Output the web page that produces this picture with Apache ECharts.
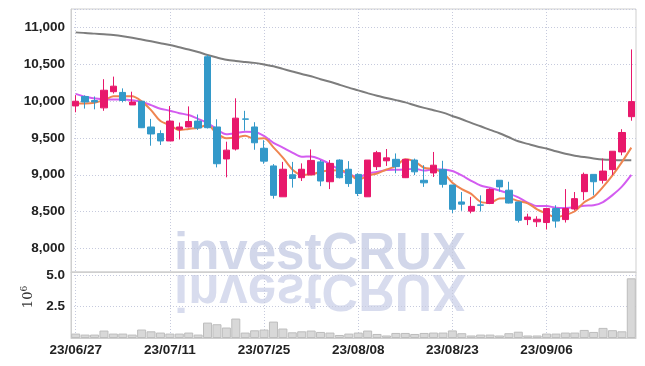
<!DOCTYPE html>
<html><head><meta charset="utf-8">
<script src="https://cdn.jsdelivr.net/npm/echarts@6/dist/echarts.min.js"></script>
<style>html,body{margin:0;padding:0;background:#fff}#c{width:645px;height:366px}</style>
</head><body><div id="c"></div>
<script>
const dates = ['23/06/27','23/06/28','23/06/29','23/06/30','23/07/03','23/07/04','23/07/05','23/07/06','23/07/07','23/07/10',
'23/07/11','23/07/12','23/07/13','23/07/14','23/07/17','23/07/18','23/07/19','23/07/20','23/07/21','23/07/24',
'23/07/25','23/07/26','23/07/27','23/07/28','23/07/31','23/08/01','23/08/02','23/08/03','23/08/04','23/08/07',
'23/08/08','23/08/09','23/08/10','23/08/11','23/08/14','23/08/16','23/08/17','23/08/18','23/08/21','23/08/22',
'23/08/23','23/08/24','23/08/25','23/08/28','23/08/29','23/08/30','23/08/31','23/09/01','23/09/04','23/09/05',
'23/09/06','23/09/07','23/09/08','23/09/11','23/09/12','23/09/13','23/09/14','23/09/15','23/09/18','23/09/19'];
const opens = [9936,10065,10010,9910,10130,10120,9950,10000,9650,9560, 9460,9620,9650,9730,10605,9650,9215,9350,9760,9650,
9360,9120,8700,9000,8960,9000,9175,8905,9200,9075, 9005,8700,9110,9190,9210,8960,9200,8925,9025,9070,
8860,8630,8505,8590,8610,8925,8790,8630,8390,8360, 8350,8540,8390,8535,8770,9005,8925,9070,9310,9790];
const closes = [10000,9990,9990,10150,10205,10010,9990,9640,9555,9460, 9730,9650,9725,9635,9640,9150,9335,9770,9755,9435,
9185,8720,9075,8950,9075,9195,8915,9155,8960,8880, 8745,9200,9300,9230,9110,9210,9040,8890,9130,8870,
8530,8600,8570,8585,8800,8835,8615,8380,8425,8395, 8540,8370,8540,8675,9005,8905,9050,9320,9575,9995];
const lows = [9850,9900,9890,9870,10105,9985,9950,9635,9395,9405, 9460,9480,9645,9610,9630,9100,8965,9330,9600,9340,
9150,8675,8700,8825,8915,8995,8845,8805,8950,8835, 8710,8700,9065,9120,9020,8955,8995,8835,8970,8825,
8480,8510,8475,8500,8600,8770,8610,8350,8315,8290, 8255,8280,8350,8515,8655,8720,8880,8995,9265,9735];
const highs = [10083,10080,10065,10300,10335,10175,10130,10005,9760,9605, 9935,9710,9930,9820,10630,9755,9450,10040,9870,9715,
9470,9145,9175,9175,9155,9345,9200,9200,9210,9185, 9020,9200,9325,9350,9290,9215,9220,9130,9310,9190,
8860,8765,8700,8720,8815,8925,8905,8630,8470,8435, 8540,8585,8805,8765,9030,9005,9220,9320,9620,10705];
const ma5 = [9970,9970,9980,10015,10067,10069,10069,9999,9880,9731, 9675,9607,9624,9640,9676,9560,9497,9506,9530,9489,
9496,9373,9234,9073,9001,9003,9042,9058,9060,9021, 8931,8988,9017,9071,9117,9210,9178,9096,9076,9028,
8892,8804,8740,8631,8617,8678,8681,8643,8611,8530, 8471,8422,8454,8504,8626,8699,8835,8991,9171,9369];
const ma10 = [10100,10060,10038,10025,10025,10025,10015,9992,9947,9899, 9872,9838,9812,9760,9704,9618,9552,9565,9585,9583,
9528,9435,9370,9302,9245,9250,9208,9146,9067,9011, 8967,9015,9038,9066,9069,9071,9083,9057,9074,9073,
9051,8991,8918,8854,8823,8785,8743,8692,8621,8574, 8575,8552,8549,8558,8578,8585,8629,8723,8838,8998];
const maLong = [10937,10930,10920,10910,10900,10885,10865,10840,10815,10790, 10765,10735,10705,10670,10630,10595,10565,10548,10535,10522,
10500,10475,10440,10405,10370,10340,10300,10265,10225,10185, 10148,10110,10074,10045,10015,9985,9945,9910,9878,9845,
9800,9755,9705,9660,9610,9565,9510,9455,9420,9385, 9357,9320,9285,9260,9240,9222,9208,9202,9198,9197];
const volumes = [350000,270000,270000,590000,350000,350000,270000,670000,530000,430000,
350000,350000,430000,270000,1220000,1090000,830000,1540000,430000,610000,
670000,1300000,750000,450000,530000,590000,480000,430000,240000,350000,
430000,590000,320000,200000,400000,400000,320000,400000,430000,430000,
600000,380000,200000,270000,270000,200000,380000,500000,200000,200000,
350000,350000,430000,430000,640000,480000,800000,620000,530000,4730000];

const UP = '#e8186b', DOWN = '#3399c9';
const FONT = "'Liberation Sans',Arial,sans-serif";
const candleData = dates.map((d, i) => [opens[i], closes[i], lows[i], highs[i]]);
const gridLine = {show: true, lineStyle: {color: '#c6cadd', type: [1, 2], width: 1}};
const wmStyle = {text: 'investCRUX', x: 320, y: 280, align: 'center', verticalAlign: 'bottom',
  fontSize: 51, fontWeight: 'bold', fontFamily: "'Liberation Sans', Arial, sans-serif"};
const chart = echarts.init(document.getElementById('c'), null, {renderer: 'canvas'});
chart.setOption({
  animation: false,
  graphic: [
    {type: 'text', z: -10, silent: true, style: Object.assign({fill: '#d2d7ea'}, wmStyle)},
    {type: 'text', z: -10, silent: true, scaleY: -1, originX: 320, originY: 272,
      style: Object.assign({fill: '#d8dcee'}, wmStyle)}
  ],
  grid: [
    {left: 71, right: 9, top: 9, height: 263, show: true, borderColor: '#cfcfcf', borderWidth: 1},
    {left: 71, right: 9, top: 272, height: 66, show: true, borderColor: '#cfcfcf', borderWidth: 1}
  ],
  xAxis: [
    {type: 'category', gridIndex: 0, data: dates, boundaryGap: true,
      axisLine: {show: true, lineStyle: {color: '#cfcfcf'}}, axisTick: {show: false}, axisLabel: {show: false},
      splitLine: Object.assign({interval: 9, alignWithLabel: true}, gridLine)},
    {type: 'category', gridIndex: 1, data: dates, boundaryGap: true,
      axisLine: {show: true, lineStyle: {color: '#cfcfcf'}}, axisTick: {show: false},
      axisLabel: {interval: 9, color: '#222', fontFamily: FONT, fontSize: 13.5, fontWeight: 'bold', margin: 5},
      splitLine: Object.assign({interval: 9, alignWithLabel: true}, gridLine)}
  ],
  yAxis: [
    {type: 'value', gridIndex: 0, min: 7677, max: 11255, minInterval: 500, maxInterval: 500, scale: true,
      axisLine: {show: true, lineStyle: {color: '#cfcfcf'}}, axisTick: {show: false},
      axisLabel: {color: '#222', fontFamily: FONT, fontSize: 13.5, fontWeight: 'bold', margin: 6,
        formatter: v => (v % 500 === 0 ? v.toLocaleString('en-US') : '')},
      splitLine: gridLine},
    {type: 'value', gridIndex: 1, min: 0, max: 5230000, minInterval: 2500000, maxInterval: 2500000,
      axisLine: {show: true, lineStyle: {color: '#cfcfcf'}}, axisTick: {show: false},
      axisLabel: {color: '#222', fontFamily: FONT, fontSize: 13.5, fontWeight: 'bold', margin: 6,
        formatter: v => (v > 0 && v % 2500000 === 0 ? (v / 1e6).toFixed(1) : '')},
      splitLine: gridLine,
      name: '{a|10}{b|6}', nameLocation: 'middle', nameRotate: 90, nameGap: 22,
      nameTextStyle: {padding: [0, 0, 0, 16], rich: {a: {fontSize: 13, color: '#333', fontFamily: 'DejaVu Serif'}, b: {fontSize: 9, color: '#333', fontFamily: 'DejaVu Serif', verticalAlign: 'top', padding: [0, 0, 8, 0]}}}}
  ],
  series: [
    {type: 'bar', xAxisIndex: 1, yAxisIndex: 1, data: volumes, barCategoryGap: '4%',
      itemStyle: {color: '#d8d8d8', borderColor: '#bdbdbd', borderWidth: 1}},
    {type: 'line', name: 'MA60', data: maLong, smooth: 0.3, showSymbol: false, z: 3,
      lineStyle: {color: '#7d7d7d', width: 2}},
    {type: 'line', name: 'MA10', data: ma10, smooth: 0.3, showSymbol: false, z: 3,
      lineStyle: {color: '#d35cf0', width: 2}},
    {type: 'line', name: 'MA5', data: ma5, smooth: 0.3, showSymbol: false, z: 4,
      lineStyle: {color: '#ef8550', width: 2}},
    {type: 'candlestick', name: 'price', data: candleData, barWidth: '72%', z: 5,
      itemStyle: {color: UP, color0: DOWN, borderColor: UP, borderColor0: DOWN, borderWidth: 1}}
  ]
});
</script></body></html>
